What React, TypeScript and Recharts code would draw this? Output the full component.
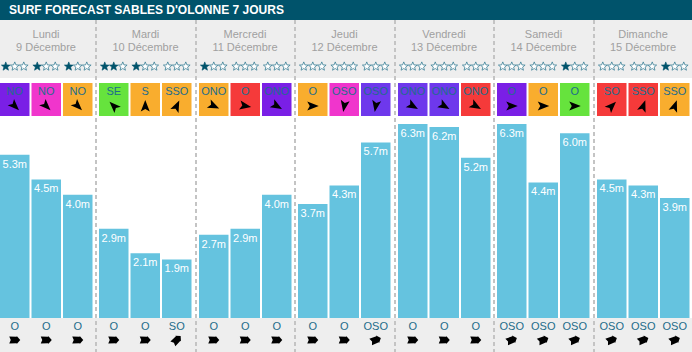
import { BarChart, Bar, XAxis, YAxis, LabelList } from 'recharts';

const dayNames = ['Lundi', 'Mardi', 'Mercredi', 'Jeudi', 'Vendredi', 'Samedi', 'Dimanche'];
const dayDates = ['9 Décembre', '10 Décembre', '11 Décembre', '12 Décembre', '13 Décembre', '14 Décembre', '15 Décembre'];

const waveHeights = [
  [5.3, 4.5, 4.0],
  [2.9, 2.1, 1.9],
  [2.7, 2.9, 4.0],
  [3.7, 4.3, 5.7],
  [6.3, 6.2, 5.2],
  [6.3, 4.4, 6.0],
  [4.5, 4.3, 3.9],
];
const ratings = [
  [1, 1, 1],
  [2, 1, 0],
  [1, 0, 0],
  [0, 0, 0],
  [0, 0, 0],
  [0, 0, 1],
  [0, 0, 1],
];
const windDirs = [
  ['NO', 'NO', 'NO'],
  ['SE', 'S', 'SSO'],
  ['ONO', 'O', 'ONO'],
  ['O', 'OSO', 'OSO'],
  ['ONO', 'ONO', 'ONO'],
  ['O', 'O', 'O'],
  ['SO', 'SSO', 'SSO'],
];
const windAngles = [
  [135, 135, 135],
  [-45, 0, 25],
  [115, 100, 120],
  [90, 190, 190],
  [120, 120, 120],
  [90, 90, 90],
  [45, 20, 20],
];
const windColors = [
  ['#7a1fe6', '#f035cc', '#f9ad2e'],
  ['#66e33d', '#f9ad2e', '#f9ad2e'],
  ['#f9ad2e', '#f53a3a', '#7a1fe6'],
  ['#f9ad2e', '#f035cc', '#6e38ec'],
  ['#6e38ec', '#6e38ec', '#f53a3a'],
  ['#7a1fe6', '#f9ad2e', '#66e33d'],
  ['#f53a3a', '#f53a3a', '#f9ad2e'],
];
const swellDirs = [
  ['O', 'O', 'O'],
  ['O', 'O', 'SO'],
  ['O', 'O', 'O'],
  ['O', 'O', 'OSO'],
  ['O', 'O', 'O'],
  ['OSO', 'OSO', 'OSO'],
  ['OSO', 'OSO', 'OSO'],
];
const swellAngles: Record<string, number> = { O: 90, OSO: 68, SO: 45 };

const FONT = '"Liberation Sans", Arial, sans-serif';
const TEAL = '#00536b';
const TEXT = '#1d6c8b';
const BAR_WIDTH = 29.5;
const PANEL_WIDTH = 94.5;
const PANEL_STEP = 99.5;

const starPoints = (cx: number, cy: number, R = 4.6, r = 2) =>
  Array.from({ length: 10 }, (_, i) => {
    const a = (Math.PI / 5) * i - Math.PI / 2;
    const rad = i % 2 === 0 ? R : r;
    return `${(cx + rad * Math.cos(a)).toFixed(2)},${(cy + rad * Math.sin(a)).toFixed(2)}`;
  }).join(' ');

function WindTick({ x, payload, day }: any) {
  const slot = payload.value as number;
  const filled = ratings[day][slot];
  return (
    <g>
      {[0, 1, 2].map((s) => (
        <polygon
          key={s}
          points={starPoints(x - 9 + s * 9, 66.5)}
          fill={s < filled ? TEAL : '#fff'}
          stroke={s < filled ? TEAL : '#3a7f95'}
          strokeWidth={s < filled ? 0.6 : 0.8}
        />
      ))}
      <rect x={x - BAR_WIDTH / 2} y={83} width={BAR_WIDTH} height={33} fill={windColors[day][slot]} />
      <text x={x} y={95} textAnchor="middle" fontSize={11} fontFamily={FONT} fill={TEXT}>
        {windDirs[day][slot]}
      </text>
      <path
        transform={`translate(${x},106) rotate(${windAngles[day][slot]})`}
        d="M0,-6 L4.5,5.5 L0,3 L-4.5,5.5 Z"
        fill="#000"
      />
    </g>
  );
}

function SwellTick({ x, payload, day }: any) {
  const dir = swellDirs[day][payload.value as number];
  return (
    <g>
      <text x={x} y={330} textAnchor="middle" fontSize={11} fontFamily={FONT} fill={TEXT}>
        {dir}
      </text>
      <path
        transform={`translate(${x},340) rotate(${swellAngles[dir]})`}
        d="M0,-5.5 L4,-2 L3.2,-2 L3.5,5.5 L0,4 L-3.5,5.5 L-3.2,-2 L-4,-2 Z"
        fill="#000"
      />
    </g>
  );
}

function DayPanel({ day }: { day: number }) {
  const rows = waveHeights[day].map((height, slot) => ({ slot, height }));
  return (
    <div style={{ position: 'absolute', left: day * PANEL_STEP - 1.25, top: 0 }}>
      <BarChart
        width={PANEL_WIDTH}
        height={352}
        data={rows}
        margin={{ top: 94, right: 0, bottom: 4, left: 0 }}
        barSize={BAR_WIDTH}
        style={{ overflow: 'visible' }}
      >
        <YAxis hide domain={[0, 6.3]} />
        <XAxis
          xAxisId="swell"
          dataKey="slot"
          height={30}
          interval={0}
          axisLine={false}
          tickLine={false}
          tick={(props: any) => <SwellTick {...props} day={day} />}
        />
        <XAxis
          xAxisId="wind"
          dataKey="slot"
          orientation="top"
          height={30}
          interval={0}
          axisLine={false}
          tickLine={false}
          tick={(props: any) => <WindTick {...props} day={day} />}
        />
        <Bar xAxisId="swell" dataKey="height" fill="#65c3df" isAnimationActive={false}>
          <LabelList
            dataKey="height"
            position="insideTop"
            offset={5}
            fill="#fff"
            fontSize={11}
            fontFamily={FONT}
            formatter={(v: any) => `${Number(v).toFixed(1)}m`}
          />
        </Bar>
      </BarChart>
    </div>
  );
}

export default function App() {
  return (
    <div style={{ position: 'absolute', left: 0, top: 0, width: 692, height: 352, overflow: 'hidden', background: '#fff', fontFamily: FONT }}>
      <div style={{ position: 'absolute', left: 0, top: 0, width: 692, height: 20, background: TEAL, color: '#fff', fontSize: 12, fontWeight: 'bold', lineHeight: '21px', paddingLeft: 9, boxSizing: 'border-box' }}>
        SURF FORECAST SABLES D'OLONNE 7 JOURS
      </div>
      <div style={{ position: 'absolute', left: 0, top: 20, width: 692, height: 58, background: '#eeeeee' }} />
      <div style={{ position: 'absolute', left: 0, top: 318, width: 692, height: 34, background: '#eeeeee' }} />
      {dayNames.map((name, i) => (
        <div key={name} style={{ position: 'absolute', left: i * PANEL_STEP - 4, top: 28, width: 100, textAlign: 'center', color: '#a0a0a0', fontSize: 11, lineHeight: '13px' }}>
          {name}
          <br />
          {dayDates[i]}
        </div>
      ))}
      {dayNames.slice(1).map((name, i) => (
        <div
          key={name}
          style={{
            position: 'absolute',
            left: Math.round((i + 1) * PANEL_STEP - 4.5),
            top: 20,
            width: 1.5,
            height: 332,
            background: 'repeating-linear-gradient(to bottom, #c4c4c4 0 4px, transparent 4px 7px)',
          }}
        />
      ))}
      {dayNames.map((name, i) => (
        <DayPanel key={name} day={i} />
      ))}
    </div>
  );
}
